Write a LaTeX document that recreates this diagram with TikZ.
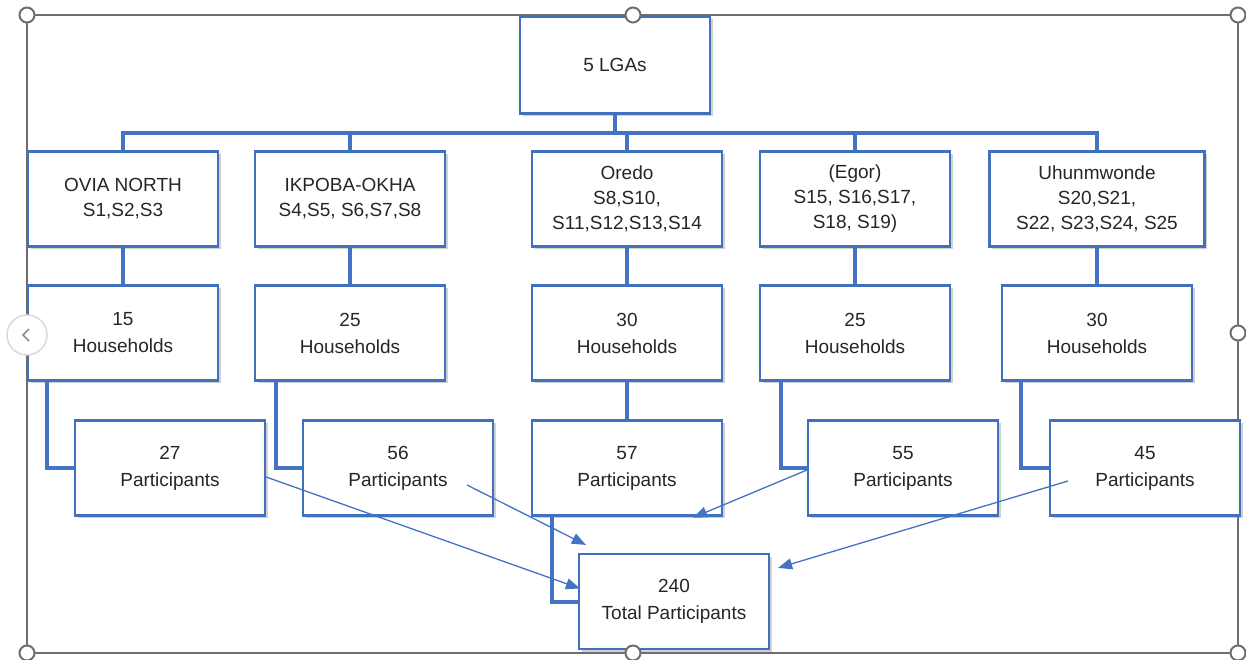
\documentclass[tikz,border=0pt]{standalone}
\usepackage{fontspec}
\setmainfont{Liberation Sans}
\usetikzlibrary{arrows.meta,shadows,calc}
\definecolor{bl}{RGB}{68,114,196}
\definecolor{bd}{RGB}{65,113,190}
\definecolor{hg}{RGB}{110,110,110}
\begin{document}
\begin{tikzpicture}[x=1pt,y=-1pt,
  box/.style={draw=bd, line width=2.2pt, fill=white, minimum width=190pt, minimum height=95pt,
    inner sep=0pt, align=center, font=\fontsize{19}{25}\selectfont, text=black!85,
    drop shadow={shadow xshift=2.5pt, shadow yshift=-2.5pt, opacity=0.4, fill=black!45}},
  hhbox/.style={box, font=\fontsize{19}{27}\selectfont},
  bus/.style={draw=bl, line width=4pt},
  thinarrow/.style={draw=bl, line width=1.3pt, -{Triangle[length=14pt,width=11pt]}},
  handle/.style={circle, draw=hg, line width=2pt, fill=white, minimum size=15pt, inner sep=0pt},
]
\useasboundingbox (0,0) rectangle (1246,660);
\fill[white] (0,0) rectangle (1246,660);
% selection frame
\draw[hg, line width=1.5pt] (27,15) rectangle (1238,653);

% nodes
\node[box, minimum height=97pt] (lga) at (615,65) {5 LGAs};
\node[box] (a1) at (123,199) {OVIA NORTH\\S1,S2,S3};
\node[box] (a2) at (350,199) {IKPOBA-OKHA\\S4,S5, S6,S7,S8};
\node[box] (a3) at (627,199) {Oredo\\S8,S10,\\S11,S12,S13,S14};
\node[box] (a4) at (855,199) {(Egor)\\S15, S16,S17,\\S18, S19)};
\node[box, minimum width=215pt] (a5) at (1097,199) {Uhunmwonde\\S20,S21,\\S22, S23,S24, S25};

\node[hhbox] (h1) at (123,333) {15\\Households};
\node[hhbox] (h2) at (350,333) {25\\Households};
\node[hhbox] (h3) at (627,333) {30\\Households};
\node[hhbox] (h4) at (855,333) {25\\Households};
\node[hhbox] (h5) at (1097,333) {30\\Households};

\node[hhbox] (p1) at (170,468) {27\\Participants};
\node[hhbox] (p2) at (398,468) {56\\Participants};
\node[hhbox] (p3) at (627,468) {57\\Participants};
\node[hhbox] (p4) at (903,468) {55\\Participants};
\node[hhbox] (p5) at (1145,468) {45\\Participants};

\node[hhbox] (tot) at (674,601.5) {240\\Total Participants};

% bus connectors
\coordinate (busy) at (0,133);
\draw[bus] (lga.south) -- (lga.south |- busy);
\draw[bus] (a1.north) -- (a1.north |- busy) -- (a5.north |- busy) -- (a5.north);
\draw[bus] (a2.north) -- (a2.north |- busy);
\draw[bus] (a3.north) -- (a3.north |- busy);
\draw[bus] (a4.north) -- (a4.north |- busy);

\foreach \i in {1,...,5} {\draw[bus] (a\i.south) -- (h\i.north);}

\draw[bus] ([xshift=-76pt]h1.south) |- (p1.west);
\draw[bus] ([xshift=-74pt]h2.south) |- (p2.west);
\draw[bus] (h3.south) -- (p3.north);
\draw[bus] ([xshift=-74pt]h4.south) |- (p4.west);
\draw[bus] ([xshift=-76pt]h5.south) |- (p5.west);
\draw[bus] ([xshift=-75pt]p3.south) |- (tot.west);

% thin arrows
\draw[thinarrow] ([yshift=-9pt]p1.east) -- ([xshift=2pt,yshift=13pt]tot.west);
\draw[thinarrow] ([xshift=69pt,yshift=-17pt]p2.center) -- ([xshift=8pt,yshift=8pt]tot.north west);
\draw[thinarrow] ([yshift=-2pt]p4.west) -- ([xshift=-30pt,yshift=-1pt]p3.south east);
\draw[thinarrow] ([xshift=-77pt,yshift=-13pt]p5.center) -- ([xshift=8pt,yshift=-15pt]tot.north east);

% handles
\node[handle] (hTL) at (27,15) {};
\node[handle] (hTM) at (633,15) {};
\node[handle] (hTR) at (1238,15) {};
\node[handle] (hRM) at (1238,333) {};
\node[handle] (hBL) at (27,653) {};
\node[handle] (hBM) at (633,653) {};
\node[handle] (hBR) at (1238,653) {};
\node[circle, draw=black!15, line width=1.5pt, fill=white, minimum size=40pt, inner sep=0pt] (hLM) at (27,335) {};
\draw[black!45, line width=1.6pt] ([xshift=2pt,yshift=6pt]hLM.center) -- ([xshift=-4pt]hLM.center) -- ([xshift=2pt,yshift=-6pt]hLM.center);
\end{tikzpicture}
\end{document}
